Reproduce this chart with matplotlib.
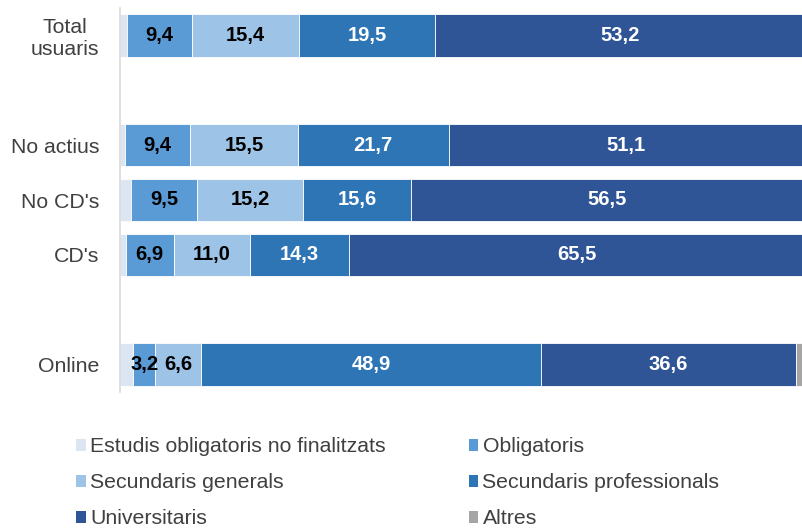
import matplotlib
matplotlib.use("Agg")
import matplotlib.pyplot as plt
from matplotlib.patches import Patch

categories = ["Total\nusuaris", "No actius", "No CD's", "CD's", "Online"]
positions = [0, 2, 3, 4, 6]

series_names = ["Estudis obligatoris no finalitzats", "Obligatoris", "Secundaris generals",
                "Secundaris professionals", "Universitaris", "Altres"]
no_finalitzats = [1.0, 0.7, 1.6, 0.8, 1.9]
obligatoris = [9.4, 9.4, 9.5, 6.9, 3.2]
sec_generals = [15.4, 15.5, 15.2, 11.0, 6.6]
sec_professionals = [19.5, 21.7, 15.6, 14.3, 48.9]
universitaris = [53.2, 51.1, 56.5, 65.5, 36.6]
altres = [1.5, 1.6, 1.6, 1.5, 2.8]

colors = ["#DCE6F2", "#5B9BD5", "#9DC3E6", "#2E75B6", "#2F5597", "#A5A5A5"]
label_colors = [None, "black", "black", "white", "white", None]

plt.rcParams['font.family'] = ['Liberation Sans', 'DejaVu Sans']

fig = plt.figure(figsize=(8.03, 5.29), dpi=100)
ax = fig.add_axes([120/803, 1-392/529, 1-120/803, (392-8)/529])

all_series = [no_finalitzats, obligatoris, sec_generals, sec_professionals, universitaris, altres]
left = [0.0]*len(categories)
for s, (vals, col, lc) in enumerate(zip(all_series, colors, label_colors)):
    ax.barh(positions, vals, left=left, height=0.77, color=col,
            edgecolor="white", linewidth=0.6, label=series_names[s])
    if lc is not None:
        for p, l, v in zip(positions, left, vals):
            ax.text(l + v/2, p, f"{v:.1f}".replace(".", ","), ha="center", va="center",
                    color=lc, fontsize=14.5, fontweight="bold")
    left = [a + b for a, b in zip(left, vals)]

ax.set_xlim(0, (803-120)/6.95)
ax.set_ylim(6.5, -0.5)
ax.set_yticks(positions)
ax.set_yticklabels(categories, fontsize=15.3, color="#404040", multialignment="center",
                   linespacing=1.2)
ax.tick_params(axis="y", length=0, pad=15)
ax.set_xticks([])
for sp in ["top", "right", "bottom"]:
    ax.spines[sp].set_visible(False)
ax.spines["left"].set_color("#D9D9D9")
ax.spines["left"].set_linewidth(1.2)

order = [0, 2, 4, 1, 3, 5]
handles = [Patch(facecolor=colors[i]) for i in order]
labels = [series_names[i] for i in order]
fig.legend(handles, labels, ncol=2, loc="upper left", bbox_to_anchor=(70/803, 1-431/529),
           frameon=False, fontsize=15.3, handlelength=0.45, handleheight=0.5, handletextpad=0.2,
           columnspacing=3.9, labelspacing=0.8, labelcolor="#404040", borderaxespad=0,
           borderpad=0.3)

fig.savefig("out.png", dpi=100)
